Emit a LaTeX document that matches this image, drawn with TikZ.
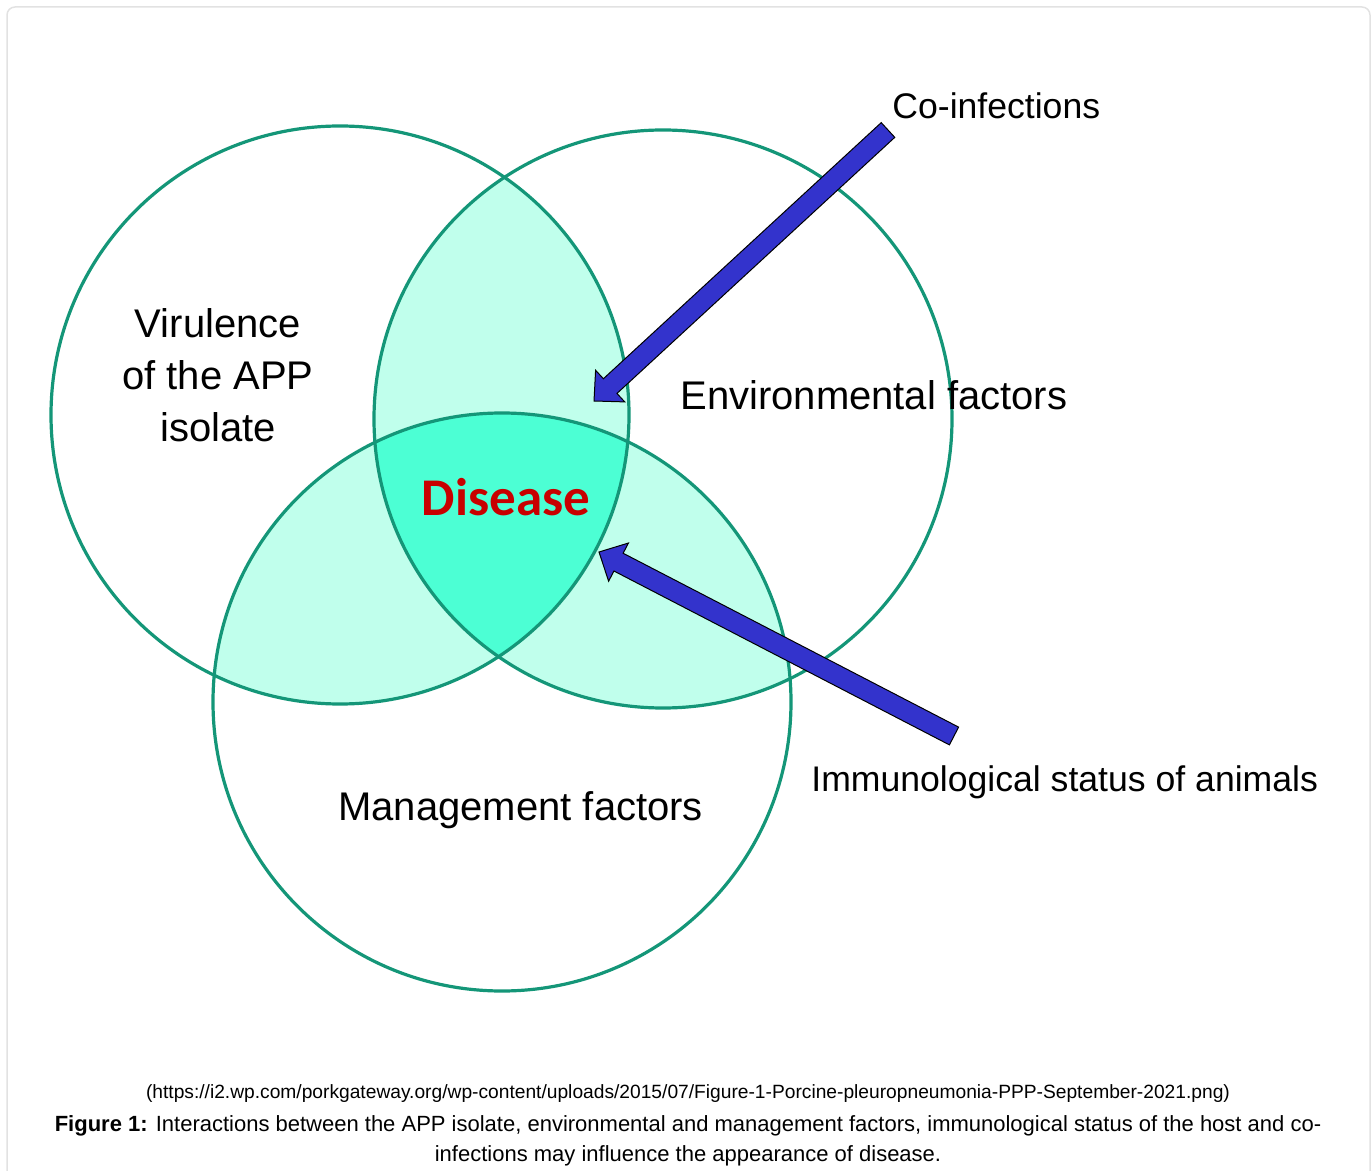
\documentclass[tikz,border=0pt]{standalone}
\usepackage{fontspec}
\setmainfont{Liberation Sans}
\newfontfamily\diseasefont{Carlito}
\usetikzlibrary{calc}

\definecolor{venngreen}{RGB}{20,150,120}
\definecolor{vennlight}{RGB}{192,255,236}
\definecolor{venndark}{RGB}{76,255,212}
\definecolor{arrowblue}{RGB}{51,51,204}
\definecolor{diseasered}{RGB}{200,0,0}
\definecolor{framegray}{RGB}{226,226,226}

\tikzset{
  venn/.style={draw=venngreen, line width=1.6pt},
  inlabel/.style={font=\fontsize{20}{26}\selectfont, inner sep=0pt},
  outlabel/.style={font=\fontsize{17.8}{22}\selectfont, inner sep=0pt},
  pointer/.style={fill=arrowblue, draw=black, line width=0.5pt, line join=miter},
}

% fat block arrow from #1 (tail) to #2 (tip)
\newcommand\blockarrow[2]{%
  \coordinate (ba-h) at ($(#2)!11pt!(#1)$);
  \draw[pointer] ($(#1)!5pt!90:(#2)$) -- ($(ba-h)!5pt!90:(#2)$)
    -- ($(ba-h)!10.75pt!90:(#2)$) -- (#2)
    -- ($(ba-h)!10.75pt!-90:(#2)$) -- ($(ba-h)!5pt!-90:(#2)$)
    -- ($(#1)!5pt!-90:(#2)$) -- cycle;}

\begin{document}
\begin{tikzpicture}[x=0.5pt, y=-0.5pt]
\useasboundingbox (0,0) rectangle (1371,1171);
% page frame
\draw[framegray, line width=0.75pt, rounded corners=4pt]
  (7,1200) -- (7,7) -- (1370,7) -- (1370,1200);
%
\coordinate (vir) at (340,415);
\coordinate (env) at (663,419);
\coordinate (man) at (502,702);
%
% pairwise overlaps
\begin{scope}
  \clip (vir) circle (289);
  \fill[vennlight] (env) circle (289);
  \fill[vennlight] (man) circle (289);
\end{scope}
\begin{scope}
  \clip (env) circle (289);
  \fill[vennlight] (man) circle (289);
\end{scope}
% all three
\begin{scope}
  \clip (vir) circle (289);
  \clip (env) circle (289);
  \fill[venndark] (man) circle (289);
\end{scope}
%
\draw[venn] (vir) circle (289);
\draw[venn] (env) circle (289);
\draw[venn] (man) circle (289);
%
\node[inlabel, align=center] (virulence) at (218,375) {Virulence\\of the APP\\isolate};
\node[inlabel, anchor=base west] (environ) at (680,410) {Environmental factors};
\node[inlabel, anchor=base west] (manage) at (338,820) {Management factors};
\node[anchor=base, inner sep=0pt, text=diseasered,
      font=\diseasefont\bfseries\fontsize{26.5}{30}\selectfont] (disease) at (506,516) {Disease};
%
\node[outlabel, anchor=base west] (coinf) at (892,119) {Co-infections};
\node[outlabel, anchor=base west] (immun) at (811,791) {Immunological status of animals};
%
\coordinate (coinf-tail) at (888,130);
\coordinate (coinf-tip) at (594,401);
\coordinate (immun-tail) at (954,736);
\coordinate (immun-tip) at (599,552);
\blockarrow{coinf-tail}{coinf-tip}
\blockarrow{immun-tail}{immun-tip}
%
% caption
\node[anchor=base, inner sep=0pt, font=\fontsize{9.6}{12}\selectfont] (source) at (688,1098)
  {(https://i2.wp.com/porkgateway.org/wp-content/uploads/2015/07/Figure-1-Porcine-pleuropneumonia-PPP-September-2021.png)};
\node[anchor=base, inner sep=0pt, font=\fontsize{11}{13}\selectfont] (caption1) at (688,1131)
  {\textbf{Figure 1:} Interactions between the APP isolate, environmental and management factors, immunological status of the host and co-};
\node[anchor=base, inner sep=0pt, font=\fontsize{11}{13}\selectfont] (caption2) at (688,1161)
  {infections may influence the appearance of disease.};
\end{tikzpicture}
\end{document}
